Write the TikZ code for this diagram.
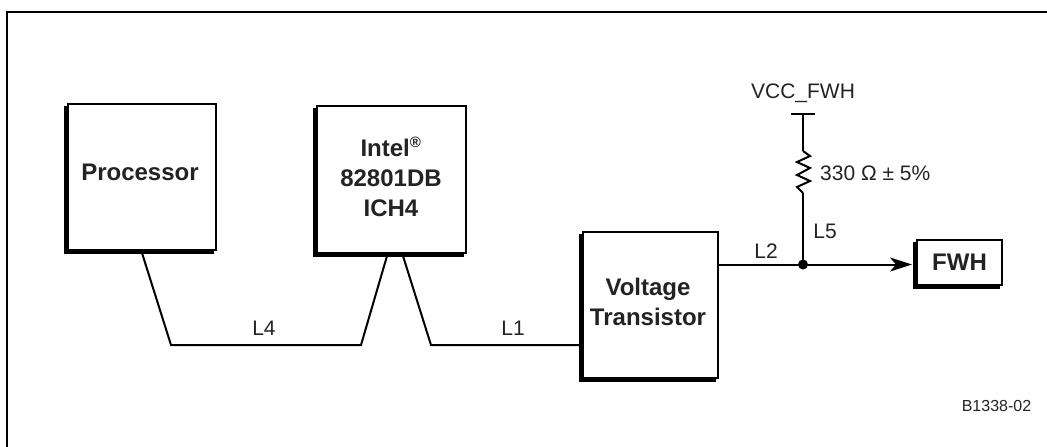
\documentclass[tikz,border=0pt]{standalone}
\usepackage{fontspec}
\setmainfont{Liberation Sans}
\usepackage{xcolor}
\usetikzlibrary{positioning,arrows.meta,shadows}
\definecolor{inktext}{RGB}{35,35,35}
\tikzset{
  chipbox/.style={draw=black, fill=white, line width=2pt, inner sep=0pt, align=center, text=inktext,
    font=\fontsize{24}{30}\selectfont\bfseries,
    copy shadow={shadow xshift=-3pt, shadow yshift=-3pt, draw=black, fill=black}},
  chiplabel/.style={text=inktext, font=\fontsize{24}{30}\selectfont\bfseries, align=center, inner sep=0pt},
  wirelabel/.style={font=\fontsize{21}{25}\selectfont, text=inktext, inner sep=0pt},
  wire/.style={line width=2pt}
}
\begin{document}
\begin{tikzpicture}[>={Stealth[length=22pt,width=14pt,inset=6pt]}, x=1pt, y=-1pt]
\useasboundingbox (0,0) rectangle (1047,447);

% outer frame, top and left only
\coordinate (framea) at (7,447);
\coordinate (frameb) at (7,12);
\coordinate (framec) at (1047,12);
\draw[line width=2pt] (framea) -- (frameb) -- (framec);

\node[chipbox, minimum width=148pt, minimum height=146pt] (processor) at (142,176.5) {};
\node[chipbox, minimum width=149pt, minimum height=147pt] (ich) at (391.5,179.5) {};
\node[chipbox, minimum width=135pt, minimum height=146pt] (transistor) at (650.5,305) {};
\node[chipbox, minimum width=85pt, minimum height=45pt] (fwh) at (959.5,262.5) {FWH};

\node[chiplabel] (processorlabel) at (140,172) {Processor};
\node[chiplabel] (ichlabel) at (391,177) {Intel\textsuperscript{\fontsize{15}{15}\selectfont\textregistered}\\82801DB\\ICH4};
\node[chiplabel] (transistorlabel) at (648,302) {Voltage\\Transistor};

% L4 and L1
\coordinate (l4a) at (142,253);
\coordinate (l4b) at (171,345);
\coordinate (l4c) at (361,345);
\coordinate (l4d) at (387,256);
\coordinate (l1a) at (403,256);
\coordinate (l1b) at (431,345);
\draw[wire] (l4a) -- (l4b) -- (l4c) -- (l4d);
\draw[wire] (l1a) -- (l1b) -- (transistor.west |- l1b);
\node[wirelabel] (l4) at (264,328) {L4};
\node[wirelabel] (l1) at (513,328) {L1};

% supply and resistor
\coordinate (junction) at (803,264.5);
\coordinate (fwhin) at (912,264.5);
\coordinate (vcc) at (803,114);
\coordinate (vcca) at (791,114);
\coordinate (vccb) at (815,114);
\coordinate (resa) at (803,151);
\coordinate (resb) at (803,193);
\draw[wire] (transistor.east |- junction) -- (junction);
\draw[wire, ->] (junction) -- (fwhin);
\fill (junction) circle (5pt);
\draw[wire] (junction) -- (resb);
\draw[wire] (vcc) -- (resa);
\draw[wire] (vcca) -- (vccb);
\draw[wire] (resa) -- (810,156) -- (797,162) -- (810,168) -- (797,175) -- (810,181) -- (797,187) -- (resb);

\node[wirelabel] (vcclabel) at (803,93) {VCC\_FWH};
\node[wirelabel, anchor=west] (reslabel) at (820,173) {330 Ω ± 5\%};
\node[wirelabel] (l5) at (825,231) {L5};
\node[wirelabel] (l2) at (766,251) {L2};
\node[font=\fontsize{16}{18}\selectfont, text=inktext, inner sep=0pt] (partno) at (996.5,406) {B1338-02};
\end{tikzpicture}
\end{document}
